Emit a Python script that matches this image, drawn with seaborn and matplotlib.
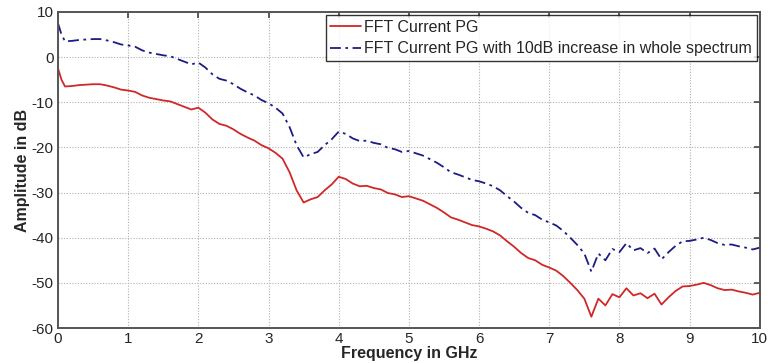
import numpy as np
import pandas as pd
import matplotlib
matplotlib.use("Agg")
import matplotlib.pyplot as plt
import seaborn as sns

freq_ghz = [0.0, 0.05, 0.1, 0.2, 0.3, 0.4, 0.5, 0.6, 0.7, 0.8, 0.9, 1.0,
            1.1, 1.2, 1.3, 1.4, 1.5, 1.6, 1.7, 1.8, 1.9, 2.0,
            2.1, 2.2, 2.3, 2.4, 2.5, 2.6, 2.7, 2.8, 2.9, 3.0,
            3.1, 3.2, 3.3, 3.4, 3.5, 3.6, 3.7, 3.8, 3.9, 4.0,
            4.1, 4.2, 4.3, 4.4, 4.5, 4.6, 4.7, 4.8, 4.9, 5.0,
            5.1, 5.2, 5.3, 5.4, 5.5, 5.6, 5.7, 5.8, 5.9, 6.0,
            6.1, 6.2, 6.3, 6.4, 6.5, 6.6, 6.7, 6.8, 6.9, 7.0,
            7.1, 7.2, 7.3, 7.4, 7.5, 7.6, 7.7, 7.8, 7.9, 8.0,
            8.1, 8.2, 8.3, 8.4, 8.5, 8.6, 8.7, 8.8, 8.9, 9.0,
            9.1, 9.2, 9.3, 9.4, 9.5, 9.6, 9.7, 9.8, 9.9, 10.0]

fft_current = [-2.5, -5.0, -6.5, -6.4, -6.2, -6.1, -6.0, -6.0, -6.3, -6.7, -7.2, -7.4,
               -7.7, -8.5, -9.0, -9.3, -9.6, -9.8, -10.4, -11.0, -11.6, -11.2,
               -12.3, -13.8, -14.8, -15.2, -16.0, -17.0, -17.8, -18.5, -19.5, -20.2,
               -21.2, -22.5, -25.5, -29.5, -32.2, -31.5, -31.0, -29.5, -28.2, -26.5,
               -27.0, -28.0, -28.6, -28.5, -29.0, -29.3, -30.1, -30.4, -31.0, -30.8,
               -31.3, -31.8, -32.6, -33.4, -34.4, -35.5, -36.0, -36.6, -37.2, -37.5,
               -38.0, -38.6, -39.5, -40.8, -42.0, -43.4, -44.5, -45.0, -46.0, -46.6,
               -47.3, -48.5, -50.0, -51.6, -53.5, -57.5, -53.5, -55.0, -52.5, -53.2,
               -51.2, -52.8, -52.3, -53.4, -52.4, -54.8, -53.2, -51.8, -50.8, -50.7,
               -50.4, -50.0, -50.5, -51.2, -51.6, -51.5, -51.9, -52.2, -52.6, -52.2]

fft_current_plus10 = [7.5, 5.0, 3.5, 3.6, 3.8, 3.9, 4.0, 4.0, 3.7, 3.3, 2.8, 2.6,
                      2.3, 1.5, 1.0, 0.7, 0.4, 0.2, -0.4, -1.0, -1.6, -1.2,
                      -2.3, -3.8, -4.8, -5.2, -6.0, -7.0, -7.8, -8.5, -9.5, -10.2,
                      -11.2, -12.5, -15.5, -19.5, -22.2, -21.5, -21.0, -19.5, -18.2, -16.5,
                      -17.0, -18.0, -18.6, -18.5, -19.0, -19.3, -20.1, -20.4, -21.0, -20.8,
                      -21.3, -21.8, -22.6, -23.4, -24.4, -25.5, -26.0, -26.6, -27.2, -27.5,
                      -28.0, -28.6, -29.5, -30.8, -32.0, -33.4, -34.5, -35.0, -36.0, -36.6,
                      -37.3, -38.5, -40.0, -41.6, -43.5, -47.5, -43.5, -45.0, -42.5, -43.2,
                      -41.2, -42.8, -42.3, -43.4, -42.4, -44.8, -43.2, -41.8, -40.8, -40.7,
                      -40.4, -40.0, -40.5, -41.2, -41.6, -41.5, -41.9, -42.2, -42.6, -42.2]

labels = ["FFT Current PG", "FFT Current PG with 10dB increase in whole spectrum"]
x_ticks = list(range(0, 11))
y_ticks = list(range(-60, 11, 10))

sns.set_style("white")
plt.rcParams["font.family"] = ["Liberation Sans", "DejaVu Sans"]
plt.rcParams["axes.unicode_minus"] = False

fig = plt.figure(figsize=(7.69, 3.63), dpi=100)
ax = fig.add_axes([0.0754, 0.0964, 0.9126, 0.8706])

df = pd.DataFrame({"f": freq_ghz, "a": fft_current, "b": fft_current_plus10})
sns.lineplot(data=df, x="f", y="a", ax=ax, color="#d02828", lw=1.3, label=labels[0])
sns.lineplot(data=df, x="f", y="b", ax=ax, color="#1c1c84", lw=1.3,
             linestyle=(0, (6, 2.5, 1.5, 2.5)), label=labels[1])

ax.set_xlim(0, 10)
ax.set_ylim(-60, 10)
ax.set_xticks(x_ticks)
ax.set_yticks(y_ticks)
ax.grid(True, color="#b0b0b0", linestyle=(0, (1, 1.5)), lw=0.8)
for s in ax.spines.values():
    s.set_color("#555555")
    s.set_linewidth(1.4)
ax.tick_params(direction="in", length=4, width=1.2, color="#444444",
               top=True, right=True, labelsize=11, pad=3)
ax.set_xlabel("Frequency in GHz", fontsize=11.5, fontweight="bold", labelpad=0)
ax.set_ylabel("Amplitude in dB", fontsize=11.5, fontweight="bold", labelpad=1)

leg = ax.legend(loc="upper right", fontsize=11.5, frameon=True, fancybox=False,
                borderaxespad=0.2, borderpad=0.3, handlelength=1.9,
                handletextpad=0.2, labelspacing=0.4)
leg.get_frame().set_edgecolor("black")
leg.get_frame().set_linewidth(1.0)

fig.savefig("out.png", dpi=100)
